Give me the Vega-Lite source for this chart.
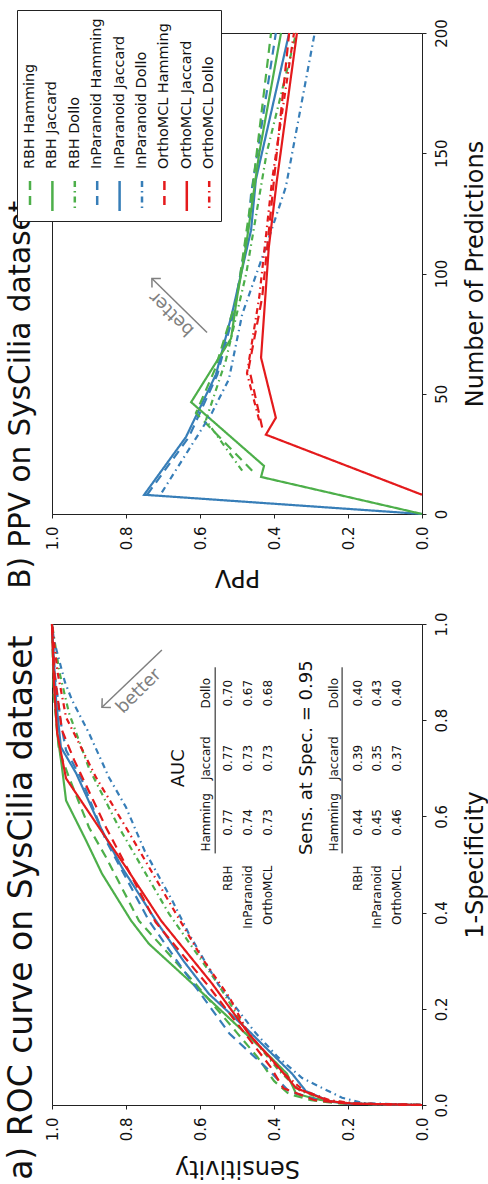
{
  "$schema": "https://vega.github.io/schema/vega-lite/v6.json",
  "background": "white",
  "padding": {"left": 4, "top": 9, "right": 5, "bottom": 5},
  "bounds": "flush",
  "spacing": 110,
  "config": {
    "font": "DejaVu Sans",
    "view": {"stroke": "#222222", "strokeWidth": 1},
    "axis": {"grid": false, "domainColor": "#222222", "tickColor": "#222222", "labelColor": "#111111", "titleColor": "#111111", "labelFontSize": 15, "titleFontSize": 24, "titleFontWeight": "normal", "tickSize": 4, "labelPadding": 8, "labelFlush": false},
    "title": {"fontSize": 29, "fontWeight": "normal", "color": "#111111"}
  },
  "datasets": {
    "ppv": [
      {"series": "InParanoid Jaccard", "n": 0, "ppv": 0}, {"series": "InParanoid Jaccard", "n": 8, "ppv": 0.751}, {"series": "InParanoid Jaccard", "n": 32, "ppv": 0.638}, {"series": "InParanoid Jaccard", "n": 58, "ppv": 0.557}, {"series": "InParanoid Jaccard", "n": 83, "ppv": 0.514}, {"series": "InParanoid Jaccard", "n": 118, "ppv": 0.462}, {"series": "InParanoid Jaccard", "n": 139, "ppv": 0.449}, {"series": "InParanoid Jaccard", "n": 200, "ppv": 0.359},
      {"series": "InParanoid Hamming", "n": 8, "ppv": 0.743}, {"series": "InParanoid Hamming", "n": 32, "ppv": 0.63}, {"series": "InParanoid Hamming", "n": 58, "ppv": 0.553}, {"series": "InParanoid Hamming", "n": 83, "ppv": 0.51}, {"series": "InParanoid Hamming", "n": 118, "ppv": 0.47}, {"series": "InParanoid Hamming", "n": 133, "ppv": 0.462}, {"series": "InParanoid Hamming", "n": 200, "ppv": 0.395},
      {"series": "RBH Jaccard", "n": 0, "ppv": 0}, {"series": "RBH Jaccard", "n": 15.4, "ppv": 0.435}, {"series": "RBH Jaccard", "n": 20, "ppv": 0.427}, {"series": "RBH Jaccard", "n": 46.5, "ppv": 0.624}, {"series": "RBH Jaccard", "n": 73, "ppv": 0.516}, {"series": "RBH Jaccard", "n": 90, "ppv": 0.5}, {"series": "RBH Jaccard", "n": 111, "ppv": 0.476}, {"series": "RBH Jaccard", "n": 150, "ppv": 0.44}, {"series": "RBH Jaccard", "n": 200, "ppv": 0.381},
      {"series": "RBH Hamming", "n": 18, "ppv": 0.459}, {"series": "RBH Hamming", "n": 42, "ppv": 0.611}, {"series": "RBH Hamming", "n": 60, "ppv": 0.56}, {"series": "RBH Hamming", "n": 90, "ppv": 0.5}, {"series": "RBH Hamming", "n": 133, "ppv": 0.46}, {"series": "RBH Hamming", "n": 200, "ppv": 0.408},
      {"series": "RBH Dollo", "n": 18, "ppv": 0.486}, {"series": "RBH Dollo", "n": 39, "ppv": 0.584}, {"series": "RBH Dollo", "n": 64, "ppv": 0.53}, {"series": "RBH Dollo", "n": 100, "ppv": 0.475}, {"series": "RBH Dollo", "n": 150, "ppv": 0.42}, {"series": "RBH Dollo", "n": 200, "ppv": 0.34},
      {"series": "InParanoid Dollo", "n": 9, "ppv": 0.703}, {"series": "InParanoid Dollo", "n": 42, "ppv": 0.568}, {"series": "InParanoid Dollo", "n": 56, "ppv": 0.522}, {"series": "InParanoid Dollo", "n": 83, "ppv": 0.486}, {"series": "InParanoid Dollo", "n": 111, "ppv": 0.422}, {"series": "InParanoid Dollo", "n": 136, "ppv": 0.368}, {"series": "InParanoid Dollo", "n": 200, "ppv": 0.29},
      {"series": "OrthoMCL Jaccard", "n": 8, "ppv": 0}, {"series": "OrthoMCL Jaccard", "n": 33, "ppv": 0.422}, {"series": "OrthoMCL Jaccard", "n": 40, "ppv": 0.395}, {"series": "OrthoMCL Jaccard", "n": 65, "ppv": 0.435}, {"series": "OrthoMCL Jaccard", "n": 111, "ppv": 0.414}, {"series": "OrthoMCL Jaccard", "n": 139, "ppv": 0.392}, {"series": "OrthoMCL Jaccard", "n": 200, "ppv": 0.338},
      {"series": "OrthoMCL Hamming", "n": 36, "ppv": 0.432}, {"series": "OrthoMCL Hamming", "n": 61, "ppv": 0.468}, {"series": "OrthoMCL Hamming", "n": 90, "ppv": 0.432}, {"series": "OrthoMCL Hamming", "n": 139, "ppv": 0.4}, {"series": "OrthoMCL Hamming", "n": 200, "ppv": 0.359},
      {"series": "OrthoMCL Dollo", "n": 39, "ppv": 0.44}, {"series": "OrthoMCL Dollo", "n": 58.5, "ppv": 0.473}, {"series": "OrthoMCL Dollo", "n": 90, "ppv": 0.44}, {"series": "OrthoMCL Dollo", "n": 139, "ppv": 0.405}, {"series": "OrthoMCL Dollo", "n": 200, "ppv": 0.346}
    ],
    "roc": [
      {"series": "RBH Hamming", "fpr": 0, "sens": 0}, {"series": "RBH Hamming", "fpr": 0.003, "sens": 0.22}, {"series": "RBH Hamming", "fpr": 0.01, "sens": 0.3}, {"series": "RBH Hamming", "fpr": 0.023, "sens": 0.36}, {"series": "RBH Hamming", "fpr": 0.05, "sens": 0.4}, {"series": "RBH Hamming", "fpr": 0.1, "sens": 0.445}, {"series": "RBH Hamming", "fpr": 0.15, "sens": 0.5}, {"series": "RBH Hamming", "fpr": 0.25, "sens": 0.61}, {"series": "RBH Hamming", "fpr": 0.383, "sens": 0.765}, {"series": "RBH Hamming", "fpr": 0.515, "sens": 0.854}, {"series": "RBH Hamming", "fpr": 0.577, "sens": 0.9}, {"series": "RBH Hamming", "fpr": 0.681, "sens": 0.954}, {"series": "RBH Hamming", "fpr": 0.7375, "sens": 0.981}, {"series": "RBH Hamming", "fpr": 0.85, "sens": 0.995}, {"series": "RBH Hamming", "fpr": 1, "sens": 1},
      {"series": "RBH Jaccard", "fpr": 0, "sens": 0}, {"series": "RBH Jaccard", "fpr": 0.003, "sens": 0.2}, {"series": "RBH Jaccard", "fpr": 0.008, "sens": 0.26}, {"series": "RBH Jaccard", "fpr": 0.023, "sens": 0.34}, {"series": "RBH Jaccard", "fpr": 0.065, "sens": 0.365}, {"series": "RBH Jaccard", "fpr": 0.1, "sens": 0.41}, {"series": "RBH Jaccard", "fpr": 0.148, "sens": 0.476}, {"series": "RBH Jaccard", "fpr": 0.252, "sens": 0.62}, {"series": "RBH Jaccard", "fpr": 0.335, "sens": 0.738}, {"series": "RBH Jaccard", "fpr": 0.383, "sens": 0.786}, {"series": "RBH Jaccard", "fpr": 0.481, "sens": 0.865}, {"series": "RBH Jaccard", "fpr": 0.55, "sens": 0.908}, {"series": "RBH Jaccard", "fpr": 0.633, "sens": 0.962}, {"series": "RBH Jaccard", "fpr": 0.702, "sens": 0.973}, {"series": "RBH Jaccard", "fpr": 0.773, "sens": 0.986}, {"series": "RBH Jaccard", "fpr": 0.88, "sens": 0.995}, {"series": "RBH Jaccard", "fpr": 1, "sens": 1},
      {"series": "RBH Dollo", "fpr": 0, "sens": 0}, {"series": "RBH Dollo", "fpr": 0.003, "sens": 0.18}, {"series": "RBH Dollo", "fpr": 0.01, "sens": 0.26}, {"series": "RBH Dollo", "fpr": 0.03, "sens": 0.33}, {"series": "RBH Dollo", "fpr": 0.07, "sens": 0.385}, {"series": "RBH Dollo", "fpr": 0.15, "sens": 0.47}, {"series": "RBH Dollo", "fpr": 0.25, "sens": 0.55}, {"series": "RBH Dollo", "fpr": 0.398, "sens": 0.684}, {"series": "RBH Dollo", "fpr": 0.577, "sens": 0.819}, {"series": "RBH Dollo", "fpr": 0.7, "sens": 0.9}, {"series": "RBH Dollo", "fpr": 0.815, "sens": 0.954}, {"series": "RBH Dollo", "fpr": 0.9, "sens": 0.98}, {"series": "RBH Dollo", "fpr": 1, "sens": 1},
      {"series": "InParanoid Hamming", "fpr": 0, "sens": 0}, {"series": "InParanoid Hamming", "fpr": 0.003, "sens": 0.2}, {"series": "InParanoid Hamming", "fpr": 0.01, "sens": 0.28}, {"series": "InParanoid Hamming", "fpr": 0.029, "sens": 0.36}, {"series": "InParanoid Hamming", "fpr": 0.077, "sens": 0.42}, {"series": "InParanoid Hamming", "fpr": 0.148, "sens": 0.52}, {"series": "InParanoid Hamming", "fpr": 0.285, "sens": 0.649}, {"series": "InParanoid Hamming", "fpr": 0.383, "sens": 0.738}, {"series": "InParanoid Hamming", "fpr": 0.55, "sens": 0.854}, {"series": "InParanoid Hamming", "fpr": 0.675, "sens": 0.919}, {"series": "InParanoid Hamming", "fpr": 0.7375, "sens": 0.962}, {"series": "InParanoid Hamming", "fpr": 0.794, "sens": 0.976}, {"series": "InParanoid Hamming", "fpr": 0.9, "sens": 0.993}, {"series": "InParanoid Hamming", "fpr": 1, "sens": 1},
      {"series": "InParanoid Jaccard", "fpr": 0, "sens": 0}, {"series": "InParanoid Jaccard", "fpr": 0.003, "sens": 0.2}, {"series": "InParanoid Jaccard", "fpr": 0.008, "sens": 0.251}, {"series": "InParanoid Jaccard", "fpr": 0.029, "sens": 0.314}, {"series": "InParanoid Jaccard", "fpr": 0.065, "sens": 0.351}, {"series": "InParanoid Jaccard", "fpr": 0.154, "sens": 0.468}, {"series": "InParanoid Jaccard", "fpr": 0.231, "sens": 0.576}, {"series": "InParanoid Jaccard", "fpr": 0.3, "sens": 0.645}, {"series": "InParanoid Jaccard", "fpr": 0.383, "sens": 0.719}, {"series": "InParanoid Jaccard", "fpr": 0.494, "sens": 0.811}, {"series": "InParanoid Jaccard", "fpr": 0.571, "sens": 0.865}, {"series": "InParanoid Jaccard", "fpr": 0.69, "sens": 0.935}, {"series": "InParanoid Jaccard", "fpr": 0.744, "sens": 0.976}, {"series": "InParanoid Jaccard", "fpr": 0.842, "sens": 0.989}, {"series": "InParanoid Jaccard", "fpr": 1, "sens": 1},
      {"series": "InParanoid Dollo", "fpr": 0, "sens": 0}, {"series": "InParanoid Dollo", "fpr": 0.004, "sens": 0.16}, {"series": "InParanoid Dollo", "fpr": 0.015, "sens": 0.216}, {"series": "InParanoid Dollo", "fpr": 0.056, "sens": 0.324}, {"series": "InParanoid Dollo", "fpr": 0.1, "sens": 0.39}, {"series": "InParanoid Dollo", "fpr": 0.15, "sens": 0.45}, {"series": "InParanoid Dollo", "fpr": 0.25, "sens": 0.55}, {"series": "InParanoid Dollo", "fpr": 0.356, "sens": 0.63}, {"series": "InParanoid Dollo", "fpr": 0.425, "sens": 0.675}, {"series": "InParanoid Dollo", "fpr": 0.529, "sens": 0.75}, {"series": "InParanoid Dollo", "fpr": 0.619, "sens": 0.8}, {"series": "InParanoid Dollo", "fpr": 0.681, "sens": 0.846}, {"series": "InParanoid Dollo", "fpr": 0.773, "sens": 0.9}, {"series": "InParanoid Dollo", "fpr": 0.842, "sens": 0.946}, {"series": "InParanoid Dollo", "fpr": 0.879, "sens": 0.965}, {"series": "InParanoid Dollo", "fpr": 0.967, "sens": 0.995}, {"series": "InParanoid Dollo", "fpr": 1, "sens": 1},
      {"series": "OrthoMCL Hamming", "fpr": 0, "sens": 0}, {"series": "OrthoMCL Hamming", "fpr": 0.003, "sens": 0.2}, {"series": "OrthoMCL Hamming", "fpr": 0.01, "sens": 0.29}, {"series": "OrthoMCL Hamming", "fpr": 0.035, "sens": 0.375}, {"series": "OrthoMCL Hamming", "fpr": 0.08, "sens": 0.41}, {"series": "OrthoMCL Hamming", "fpr": 0.15, "sens": 0.48}, {"series": "OrthoMCL Hamming", "fpr": 0.25, "sens": 0.58}, {"series": "OrthoMCL Hamming", "fpr": 0.38, "sens": 0.72}, {"series": "OrthoMCL Hamming", "fpr": 0.577, "sens": 0.854}, {"series": "OrthoMCL Hamming", "fpr": 0.717, "sens": 0.94}, {"series": "OrthoMCL Hamming", "fpr": 0.779, "sens": 0.973}, {"series": "OrthoMCL Hamming", "fpr": 0.9, "sens": 0.994}, {"series": "OrthoMCL Hamming", "fpr": 1, "sens": 1},
      {"series": "OrthoMCL Jaccard", "fpr": 0, "sens": 0}, {"series": "OrthoMCL Jaccard", "fpr": 0.003, "sens": 0.19}, {"series": "OrthoMCL Jaccard", "fpr": 0.008, "sens": 0.25}, {"series": "OrthoMCL Jaccard", "fpr": 0.035, "sens": 0.34}, {"series": "OrthoMCL Jaccard", "fpr": 0.085, "sens": 0.395}, {"series": "OrthoMCL Jaccard", "fpr": 0.148, "sens": 0.468}, {"series": "OrthoMCL Jaccard", "fpr": 0.252, "sens": 0.567}, {"series": "OrthoMCL Jaccard", "fpr": 0.383, "sens": 0.705}, {"series": "OrthoMCL Jaccard", "fpr": 0.494, "sens": 0.8}, {"series": "OrthoMCL Jaccard", "fpr": 0.577, "sens": 0.873}, {"series": "OrthoMCL Jaccard", "fpr": 0.679, "sens": 0.962}, {"series": "OrthoMCL Jaccard", "fpr": 0.773, "sens": 0.986}, {"series": "OrthoMCL Jaccard", "fpr": 0.88, "sens": 0.995}, {"series": "OrthoMCL Jaccard", "fpr": 1, "sens": 1},
      {"series": "OrthoMCL Dollo", "fpr": 0, "sens": 0}, {"series": "OrthoMCL Dollo", "fpr": 0.003, "sens": 0.18}, {"series": "OrthoMCL Dollo", "fpr": 0.01, "sens": 0.25}, {"series": "OrthoMCL Dollo", "fpr": 0.03, "sens": 0.32}, {"series": "OrthoMCL Dollo", "fpr": 0.07, "sens": 0.38}, {"series": "OrthoMCL Dollo", "fpr": 0.15, "sens": 0.47}, {"series": "OrthoMCL Dollo", "fpr": 0.223, "sens": 0.52}, {"series": "OrthoMCL Dollo", "fpr": 0.306, "sens": 0.595}, {"series": "OrthoMCL Dollo", "fpr": 0.398, "sens": 0.665}, {"series": "OrthoMCL Dollo", "fpr": 0.577, "sens": 0.8}, {"series": "OrthoMCL Dollo", "fpr": 0.681, "sens": 0.881}, {"series": "OrthoMCL Dollo", "fpr": 0.752, "sens": 0.927}, {"series": "OrthoMCL Dollo", "fpr": 0.806, "sens": 0.962}, {"series": "OrthoMCL Dollo", "fpr": 0.9, "sens": 0.985}, {"series": "OrthoMCL Dollo", "fpr": 1, "sens": 1}
    ],
    "roctext": [
      {"kind": "title", "sens": 0.657, "fpr": 0.70, "label": "AUC"},
      {"kind": "cell", "sens": 0.584, "fpr": 0.5875, "label": "Hamming"},
      {"kind": "cell", "sens": 0.584, "fpr": 0.721, "label": "Jaccard"},
      {"kind": "cell", "sens": 0.584, "fpr": 0.856, "label": "Dollo"},
      {"kind": "row", "sens": 0.524, "fpr": 0.498, "label": "RBH"},
      {"kind": "row", "sens": 0.47, "fpr": 0.498, "label": "InParanoid"},
      {"kind": "row", "sens": 0.416, "fpr": 0.498, "label": "OrthoMCL"},
      {"kind": "cell", "sens": 0.524, "fpr": 0.5875, "label": "0.77"},
      {"kind": "cell", "sens": 0.524, "fpr": 0.721, "label": "0.77"},
      {"kind": "cell", "sens": 0.524, "fpr": 0.856, "label": "0.70"},
      {"kind": "cell", "sens": 0.47, "fpr": 0.5875, "label": "0.74"},
      {"kind": "cell", "sens": 0.47, "fpr": 0.721, "label": "0.73"},
      {"kind": "cell", "sens": 0.47, "fpr": 0.856, "label": "0.67"},
      {"kind": "cell", "sens": 0.416, "fpr": 0.5875, "label": "0.73"},
      {"kind": "cell", "sens": 0.416, "fpr": 0.721, "label": "0.73"},
      {"kind": "cell", "sens": 0.416, "fpr": 0.856, "label": "0.68"},
      {"kind": "title", "sens": 0.311, "fpr": 0.722, "label": "Sens. at Spec. = 0.95"},
      {"kind": "cell", "sens": 0.238, "fpr": 0.5875, "label": "Hamming"},
      {"kind": "cell", "sens": 0.238, "fpr": 0.721, "label": "Jaccard"},
      {"kind": "cell", "sens": 0.238, "fpr": 0.856, "label": "Dollo"},
      {"kind": "row", "sens": 0.173, "fpr": 0.498, "label": "RBH"},
      {"kind": "row", "sens": 0.122, "fpr": 0.498, "label": "InParanoid"},
      {"kind": "row", "sens": 0.068, "fpr": 0.498, "label": "OrthoMCL"},
      {"kind": "cell", "sens": 0.173, "fpr": 0.5875, "label": "0.44"},
      {"kind": "cell", "sens": 0.173, "fpr": 0.721, "label": "0.39"},
      {"kind": "cell", "sens": 0.173, "fpr": 0.856, "label": "0.40"},
      {"kind": "cell", "sens": 0.122, "fpr": 0.5875, "label": "0.45"},
      {"kind": "cell", "sens": 0.122, "fpr": 0.721, "label": "0.35"},
      {"kind": "cell", "sens": 0.122, "fpr": 0.856, "label": "0.43"},
      {"kind": "cell", "sens": 0.068, "fpr": 0.5875, "label": "0.46"},
      {"kind": "cell", "sens": 0.068, "fpr": 0.721, "label": "0.37"},
      {"kind": "cell", "sens": 0.068, "fpr": 0.856, "label": "0.40"}
    ],
    "roclines": [
      {"sens": 0.559, "fpr": 0.523, "fpr2": 0.91},
      {"sens": 0.216, "fpr": 0.523, "fpr2": 0.91}
    ],
    "rocarrow": [{"sens": 0.865, "fpr": 0.827, "sens2": 0.703, "fpr2": 0.946}],
    "rocbetter": [{"sens": 0.765, "fpr": 0.86, "label": "better"}],
    "ppvarrow": [{"ppv": 0.73, "n": 97.9, "ppv2": 0.581, "n2": 75.5}],
    "ppvbetter": [{"ppv": 0.676, "n": 83.4, "label": "better"}]
  },
  "vconcat": [
    {
      "width": 370, "height": 481,
      "title": {"text": "B) PPV on SysCilia dataset", "orient": "left", "anchor": "start", "frame": "bounds", "offset": 9, "fontSize": 29.5},
      "layer": [
        {
          "data": {"name": "ppv"},
          "mark": {"type": "line", "strokeWidth": 2.2},
          "encoding": {
            "x": {"field": "ppv", "type": "quantitative", "scale": {"domain": [0, 1], "reverse": true, "nice": false},
                  "axis": {"orient": "bottom", "title": "PPV", "values": [0, 0.2, 0.4, 0.6, 0.8, 1], "format": ".1f", "labelAngle": 270, "labelAlign": "right", "labelBaseline": "middle", "titleAngle": 180, "titleBaseline": "bottom", "titlePadding": 15}},
            "y": {"field": "n", "type": "quantitative", "scale": {"domain": [0, 200], "nice": false},
                  "axis": {"orient": "right", "title": "Number of Predictions", "values": [0, 50, 100, 150, 200], "labelAngle": 270, "labelAlign": "center", "labelBaseline": "top", "titleAngle": 270, "titleBaseline": "top", "titlePadding": 14}},
            "color": {"field": "series", "type": "nominal",
                      "scale": {"domain": ["RBH Hamming", "RBH Jaccard", "RBH Dollo", "InParanoid Hamming", "InParanoid Jaccard", "InParanoid Dollo", "OrthoMCL Hamming", "OrthoMCL Jaccard", "OrthoMCL Dollo"],
                                "range": ["#4daf4a", "#4daf4a", "#4daf4a", "#377eb8", "#377eb8", "#377eb8", "#e41a1c", "#e41a1c", "#e41a1c"]},
                      "legend": {"title": null, "orient": "none", "legendX": -35, "legendY": -23, "direction": "horizontal", "columns": 9, "columnPadding": 6.4, "padding": 5,
                                 "symbolType": "M0,-1L0,1", "symbolSize": 900, "symbolStrokeWidth": 2.5, "labelFontSize": 14.4, "labelLimit": 400, "labelColor": "#111111",
                                 "fillColor": "white", "strokeColor": "#222222", "cornerRadius": 0,
                                 "encode": {"symbols": {"update": {"x": {"value": 8}, "y": {"value": 181}}},
                                            "labels": {"update": {"x": {"value": 8}, "y": {"value": 154}, "angle": {"value": 270}, "align": {"value": "left"}, "baseline": {"value": "middle"}}}}}},
            "strokeDash": {"field": "series", "type": "nominal",
                           "scale": {"domain": ["RBH Hamming", "RBH Jaccard", "RBH Dollo", "InParanoid Hamming", "InParanoid Jaccard", "InParanoid Dollo", "OrthoMCL Hamming", "OrthoMCL Jaccard", "OrthoMCL Dollo"],
                                     "range": [[9, 6], [1, 0], [6, 4, 1.5, 4], [9, 6], [1, 0], [6, 4, 1.5, 4], [9, 6], [1, 0], [6, 4, 1.5, 4]]}},
            "order": {"field": "n", "type": "quantitative"}
          }
        },
        {
          "data": {"name": "ppvarrow"},
          "mark": {"type": "rule", "color": "#808080", "strokeWidth": 1.5},
          "encoding": {"x": {"field": "ppv", "type": "quantitative"}, "y": {"field": "n", "type": "quantitative"}, "x2": {"field": "ppv2"}, "y2": {"field": "n2"}}
        },
        {
          "data": {"name": "ppvarrow"},
          "mark": {"type": "point", "shape": "M-1,-1L0,0L-1,1", "filled": false, "color": "#808080", "strokeWidth": 1.5, "size": 160, "angle": 224.5, "opacity": 1},
          "encoding": {"x": {"field": "ppv", "type": "quantitative"}, "y": {"field": "n", "type": "quantitative"}}
        },
        {
          "data": {"name": "ppvbetter"},
          "mark": {"type": "text", "angle": 225, "fontSize": 18, "color": "#808080", "align": "center", "baseline": "middle"},
          "encoding": {"x": {"field": "ppv", "type": "quantitative"}, "y": {"field": "n", "type": "quantitative"}, "text": {"field": "label"}}
        }
      ]
    },
    {
      "width": 370, "height": 481,
      "title": {"text": "a) ROC curve on SysCilia dataset", "orient": "left", "anchor": "start", "frame": "bounds", "offset": 6, "fontSize": 33},
      "layer": [
        {
          "data": {"name": "roc"},
          "mark": {"type": "line", "strokeWidth": 2.2},
          "encoding": {
            "x": {"field": "sens", "type": "quantitative", "scale": {"domain": [0, 1], "reverse": true, "nice": false},
                  "axis": {"orient": "bottom", "title": "Sensitivity", "values": [0, 0.2, 0.4, 0.6, 0.8, 1], "format": ".1f", "labelAngle": 270, "labelAlign": "right", "labelBaseline": "middle", "titleAngle": 180, "titleBaseline": "bottom", "titlePadding": 15}},
            "y": {"field": "fpr", "type": "quantitative", "scale": {"domain": [0, 1], "nice": false},
                  "axis": {"orient": "right", "title": "1-Specificity", "values": [0, 0.2, 0.4, 0.6, 0.8, 1], "format": ".1f", "labelAngle": 270, "labelAlign": "center", "labelBaseline": "top", "titleAngle": 270, "titleBaseline": "top", "titlePadding": 14}},
            "color": {"field": "series", "type": "nominal",
                      "scale": {"domain": ["RBH Hamming", "RBH Jaccard", "RBH Dollo", "InParanoid Hamming", "InParanoid Jaccard", "InParanoid Dollo", "OrthoMCL Hamming", "OrthoMCL Jaccard", "OrthoMCL Dollo"],
                                "range": ["#4daf4a", "#4daf4a", "#4daf4a", "#377eb8", "#377eb8", "#377eb8", "#e41a1c", "#e41a1c", "#e41a1c"]},
                      "legend": {"title": null, "orient": "none", "legendX": -35, "legendY": -23, "direction": "horizontal", "columns": 9, "columnPadding": 6.4, "padding": 5,
                                 "symbolType": "M0,-1L0,1", "symbolSize": 900, "symbolStrokeWidth": 2.5, "labelFontSize": 14.4, "labelLimit": 400, "labelColor": "#111111",
                                 "fillColor": "white", "strokeColor": "#222222", "cornerRadius": 0,
                                 "encode": {"symbols": {"update": {"x": {"value": 8}, "y": {"value": 181}}},
                                            "labels": {"update": {"x": {"value": 8}, "y": {"value": 154}, "angle": {"value": 270}, "align": {"value": "left"}, "baseline": {"value": "middle"}}}}}},
            "strokeDash": {"field": "series", "type": "nominal",
                           "scale": {"domain": ["RBH Hamming", "RBH Jaccard", "RBH Dollo", "InParanoid Hamming", "InParanoid Jaccard", "InParanoid Dollo", "OrthoMCL Hamming", "OrthoMCL Jaccard", "OrthoMCL Dollo"],
                                     "range": [[9, 6], [1, 0], [6, 4, 1.5, 4], [9, 6], [1, 0], [6, 4, 1.5, 4], [9, 6], [1, 0], [6, 4, 1.5, 4]]}},
            "order": {"field": "fpr", "type": "quantitative"}
          }
        },
        {
          "data": {"name": "roctext"},
          "transform": [{"filter": "datum.kind == 'title'"}],
          "mark": {"type": "text", "angle": 270, "fontSize": 18, "align": "center", "baseline": "middle", "color": "#111111"},
          "encoding": {"x": {"field": "sens", "type": "quantitative"}, "y": {"field": "fpr", "type": "quantitative"}, "text": {"field": "label"}}
        },
        {
          "data": {"name": "roctext"},
          "transform": [{"filter": "datum.kind == 'cell'"}],
          "mark": {"type": "text", "angle": 270, "fontSize": 12, "align": "center", "baseline": "middle", "color": "#111111"},
          "encoding": {"x": {"field": "sens", "type": "quantitative"}, "y": {"field": "fpr", "type": "quantitative"}, "text": {"field": "label"}}
        },
        {
          "data": {"name": "roctext"},
          "transform": [{"filter": "datum.kind == 'row'"}],
          "mark": {"type": "text", "angle": 270, "fontSize": 12, "align": "right", "baseline": "middle", "color": "#111111"},
          "encoding": {"x": {"field": "sens", "type": "quantitative"}, "y": {"field": "fpr", "type": "quantitative"}, "text": {"field": "label"}}
        },
        {
          "data": {"name": "roclines"},
          "mark": {"type": "rule", "color": "#111111", "strokeWidth": 1},
          "encoding": {"x": {"field": "sens", "type": "quantitative"}, "y": {"field": "fpr", "type": "quantitative"}, "y2": {"field": "fpr2"}}
        },
        {
          "data": {"name": "rocarrow"},
          "mark": {"type": "rule", "color": "#808080", "strokeWidth": 1.5},
          "encoding": {"x": {"field": "sens", "type": "quantitative"}, "y": {"field": "fpr", "type": "quantitative"}, "x2": {"field": "sens2"}, "y2": {"field": "fpr2"}}
        },
        {
          "data": {"name": "rocarrow"},
          "mark": {"type": "point", "shape": "M-1,-1L0,0L-1,1", "filled": false, "color": "#808080", "strokeWidth": 1.5, "size": 160, "angle": 136.5, "opacity": 1},
          "encoding": {"x": {"field": "sens", "type": "quantitative"}, "y": {"field": "fpr", "type": "quantitative"}}
        },
        {
          "data": {"name": "rocbetter"},
          "mark": {"type": "text", "angle": 315, "fontSize": 18, "color": "#808080", "align": "center", "baseline": "middle"},
          "encoding": {"x": {"field": "sens", "type": "quantitative"}, "y": {"field": "fpr", "type": "quantitative"}, "text": {"field": "label"}}
        }
      ]
    }
  ]
}
